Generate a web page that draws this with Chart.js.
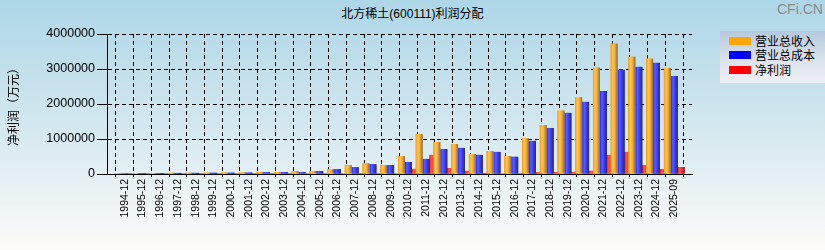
<!DOCTYPE html>
<html>
<head>
<meta charset="utf-8">
<script src="https://cdn.jsdelivr.net/npm/chart.js@4/dist/chart.umd.min.js"></script>
<style>
  html, body { margin: 0; padding: 0; }
  body { width: 825px; height: 250px; overflow: hidden; }
  #wrap { position: relative; width: 825px; height: 250px;
    background: linear-gradient(to bottom, #add6e7 0%, #d3e7ef 50%, #fdfbf9 100%); }
  #title { position: absolute; left: 0; top: 4px; width: 825px; text-align: center;
    font: 12px "Liberation Sans", "Noto Sans CJK SC", sans-serif; color: #000; }
  #wm { position: absolute; left: 777px; top: 1px; font: 14px "Liberation Sans", sans-serif; color: #8a8a8a; }
  #legend { position: absolute; left: 720px; top: 31px; width: 105px; height: 52px;
    background: linear-gradient(to bottom, #b5c9de 0%, #d8e0ea 50%, #eff0f5 100%); }
  .row { position: absolute; left: 9px; height: 14px; font: 12px "Noto Sans CJK SC", sans-serif; color: #000; line-height: 14px; }
  .sw { position: absolute; left: 0; top: 3px; width: 22px; height: 8px; }
  .lt { position: absolute; left: 26px; top: 0; white-space: nowrap; }
  canvas { position: absolute; left: 0; top: 0; }
</style>
</head>
<body>
<div id="wrap">
  <div id="title"></div>
  <div id="wm">CFi.CN</div>
  <div id="legend"></div>
  <canvas id="c" width="825" height="250"></canvas>
</div>
<script>
const titleText = '北方稀土(600111)利润分配';
const yAxisTitle = '净利润（万元）';
const seriesNames = ['营业总收入', '营业总成本', '净利润'];
const seriesColors = ['#ffa500', '#0000ff', '#ff0000'];

const categories = ['1994-12','1995-12','1996-12','1997-12','1998-12','1999-12','2000-12','2001-12',
  '2002-12','2003-12','2004-12','2005-12','2006-12','2007-12','2008-12','2009-12','2010-12','2011-12',
  '2012-12','2013-12','2014-12','2015-12','2016-12','2017-12','2018-12','2019-12','2020-12','2021-12',
  '2022-12','2023-12','2024-12','2025-09'];

const revenue = [20000, 25000, 28000, 35000, 35000, 38000, 40000, 42000,
  50000, 55000, 80000, 80000, 135000, 250000, 305000, 250000, 510000, 1140000,
  910000, 855000, 570000, 655000, 515000, 1025000, 1400000, 1810000, 2195000, 3040000,
  3725000, 3350000, 3295000, 3030000];

const cost = [18000, 22000, 25000, 30000, 31000, 34000, 36000, 38000,
  45000, 50000, 58000, 85000, 135000, 190000, 275000, 250000, 343000, 430000,
  715000, 745000, 545000, 630000, 490000, 945000, 1315000, 1745000, 2060000, 2370000,
  2975000, 3060000, 3175000, 2800000];

const profit = [2000, 2500, 3000, 4000, 3500, 3000, 3000, 3500,
  4000, 6000, 9000, 8000, 12000, 25000, 20000, 10000, 145000, 545000,
  170000, 88000, 30000, 12000, 20000, 45000, 55000, 60000, 90000, 545000,
  630000, 255000, 140000, 200000];

const yTicks = [0, 1000000, 2000000, 3000000, 4000000];

document.getElementById('title').textContent = titleText;
const lg = document.getElementById('legend');
seriesNames.forEach((n, i) => {
  const r = document.createElement('div');
  r.className = 'row';
  r.style.top = (3 + i * 14.3) + 'px';
  r.innerHTML = '<div class="sw" style="background:' + seriesColors[i] + '"></div><div class="lt"></div>';
  r.querySelector('.lt').textContent = n;
  lg.appendChild(r);
});

// pad one empty slot at each end so the edge gap equals one category
const labels = [''].concat(categories, ['']);
const pad = arr => [null].concat(arr, [null]);

const gradStops = [
  [[0, '#e49a2c'], [0.3, '#ffc658'], [0.62, '#f3a832'], [1, '#8a6a32']],
  [[0, '#2c2cd8'], [0.3, '#5c5cff'], [0.62, '#3b3bf0'], [1, '#2a2a72']],
  [[0, '#d42c2c'], [0.3, '#ff5454'], [0.62, '#f03232'], [1, '#7e2222']]
];

const shadePlugin = {
  id: 'shade',
  afterDatasetDraw(chart, args) {
    const ctx = chart.ctx;
    const meta = args.meta;
    const stops = gradStops[args.index];
    ctx.save();
    const a = chart.chartArea;
    ctx.beginPath();
    ctx.rect(a.left, a.top, a.right - a.left, a.bottom - a.top);
    ctx.clip();
    meta.data.forEach(el => {
      if (el.skip || el.y == null || isNaN(el.y)) return;
      const x0 = el.x - el.width / 2, x1 = el.x + el.width / 2;
      const top = Math.min(el.y, el.base), bot = Math.max(el.y, el.base);
      const g = ctx.createLinearGradient(x0, 0, x1, 0);
      stops.forEach(s => g.addColorStop(s[0], s[1]));
      ctx.fillStyle = g;
      ctx.fillRect(x0, top, x1 - x0, Math.max(bot - top, 1));
    });
    ctx.restore();
  }
};

const tickFont = { family: '"Liberation Sans", sans-serif', size: 12.5 };

new Chart(document.getElementById('c'), {
  type: 'bar',
  data: {
    labels: labels,
    datasets: [
      { label: seriesNames[0], data: pad(revenue), backgroundColor: seriesColors[0] },
      { label: seriesNames[1], data: pad(cost), backgroundColor: seriesColors[1] },
      { label: seriesNames[2], data: pad(profit), backgroundColor: seriesColors[2] }
    ]
  },
  options: {
    responsive: false,
    animation: false,
    events: [],
    layout: { padding: { left: 0, right: 133, top: 34, bottom: 0 } },
    datasets: { bar: { categoryPercentage: 1.17, barPercentage: 1.0, borderWidth: 0 } },
    plugins: { legend: { display: false }, title: { display: false }, tooltip: { enabled: false } },
    scales: {
      x: {
        offset: false,
        grid: { color: '#000', lineWidth: 1, tickLength: 3, tickColor: '#000', tickBorderDash: [] },
        border: { display: true, color: '#000', width: 1, dash: [4, 3] },
        ticks: {
          autoSkip: false, minRotation: 90, maxRotation: 90, padding: 2,
          color: '#000', font: { family: '"Liberation Sans", sans-serif', size: 10.5 }
        },
        afterFit(s) { s.height = 76; }
      },
      y: {
        min: 0, max: 4000000,
        afterBuildTicks(s) { s.ticks = yTicks.map(v => ({ value: v })); },
        grid: { color: '#000', lineWidth: 1, tickLength: 10, tickColor: '#000', tickBorderDash: [] },
        border: { display: true, color: '#000', width: 1, dash: [4, 3] },
        ticks: { color: '#000', font: tickFont, padding: 2, callback: v => String(v) },
        title: {
          display: true, text: yAxisTitle, color: '#000',
          font: { family: '"Noto Sans CJK SC", sans-serif', size: 12 },
          padding: { top: 6, bottom: 0 }
        },
        afterFit(s) { s.width = 107; }
      }
    }
  },
  plugins: [shadePlugin]
});
</script>
</body>
</html>
